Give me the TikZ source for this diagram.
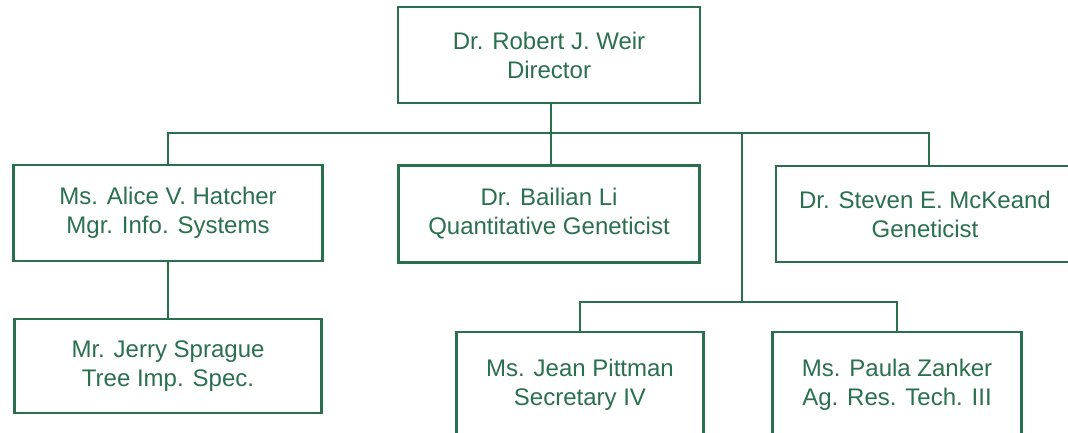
\documentclass[tikz,border=0pt]{standalone}
\usepackage{fontspec}
\setmainfont{Liberation Sans}
\usepackage{xcolor}
\usepackage{tikz}
\usetikzlibrary{positioning}
\definecolor{OrgGreen}{HTML}{2A704E}

\begin{document}
\begin{tikzpicture}[x=1pt, y=-1pt,
        person/.style={rectangle, draw=OrgGreen, line width=2.8pt, fill=white, text=OrgGreen, align=center, inner sep=0pt, font=\fontsize{24}{29}\selectfont},
        link/.style={draw=OrgGreen, line width=2.8pt}
    ]
        \useasboundingbox (0,0) rectangle (1068,432);

        % director
        \node [person, minimum width=302pt, minimum height=96pt] (weir) at (549,55) {Dr. Robert J. Weir\\ Director};

        % first level
        \node [person, minimum width=309pt, minimum height=96pt] (hatcher) at (168,213) {Ms. Alice V. Hatcher\\ Mgr. Info. Systems};
        \node [person, minimum width=301pt, minimum height=97pt] (li) at (549,214) {Dr. Bailian Li\\ Quantitative Geneticist};
        \node [person, minimum width=298pt, minimum height=96pt] (mckeand) at (925,214) {Dr. Steven E. McKeand\\ Geneticist};

        % second level
        \node [person, minimum width=307pt, minimum height=94pt] (sprague) at (168,366) {Mr. Jerry Sprague\\ Tree Imp. Spec.};
        \node [person, minimum width=247pt, minimum height=106pt] (pittman) at (580,385) {Ms. Jean Pittman\\ Secretary IV};
        \node [person, minimum width=249pt, minimum height=106pt] (zanker) at (897,385) {Ms. Paula Zanker\\ Ag. Res. Tech. III};

        \coordinate (bar) at (551,133);
        \coordinate (split) at (742,133);
        \coordinate (sub) at (742,302);

        \draw [link] (weir.south -| bar) -- (li.north -| bar);
        \draw [link] (hatcher.north) |- (bar) -| ([xshift=4pt]mckeand.north);
        \draw [link] (hatcher) -- (sprague);
        \draw [link] (split) -- (sub);
        \draw [link] (pittman.north) |- (sub) -| (zanker.north);
    \end{tikzpicture}
\end{document}
